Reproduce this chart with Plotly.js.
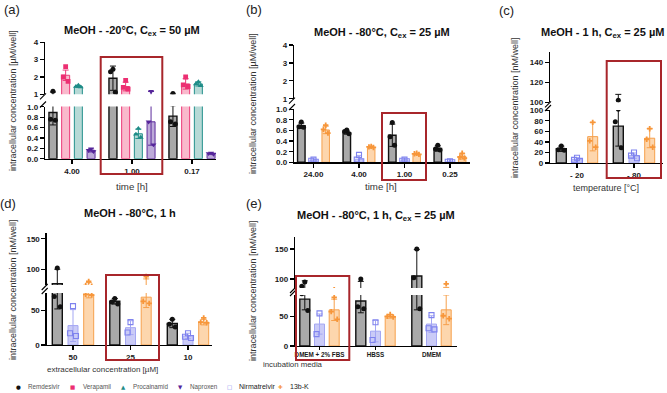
<!DOCTYPE html>
<html>
<head>
<meta charset="utf-8">
<script src="https://cdn.plot.ly/plotly-3.0.1.min.js"></script>
<style>
  html, body { margin: 0; padding: 0; background: #fff; }
  #chart { width: 667px; height: 393px; }
</style>
</head>
<body>
<div id="chart"></div>
<script>
// ---------------------------------------------------------------
// (a) MeOH, -20 °C, Cex = 50 µM — intracellular conc. [µM/well]
// ---------------------------------------------------------------
const timeA = ['4.00', '1.00', '0.17'];
const remdesivirA     = [0.89, 1.93, 0.82];
const remdesivirA_sd  = [0.24, 0.70, 0.20];
const remdesivirA_pts = [[1.18, 0.76, 0.74], [2.45, 2.30, 1.12], [1.05, 0.71, 0.67]];
const verapamilA      = [2.10, 1.45, 1.60];
const verapamilA_sd   = [0.30, 0.25, 0.30];
const verapamilA_pts  = [[2.60, 2.00, 1.75], [1.80, 1.40, 1.30], [2.00, 1.55, 1.45]];
const procainamidA     = [1.45, 0.48, 1.60];
const procainamidA_sd  = [0.06, 0.09, 0.12];
const procainamidA_pts = [[1.52, 1.45, 1.42], [0.58, 0.47, 0.41], [1.72, 1.60, 1.50]];
const naproxenA      = [0.16, 0.71, 0.10];
const naproxenA_sd   = [0.03, 0.45, 0.01];
const naproxenA_pts  = [[0.19, 0.16, 0.14], [1.17, 0.71, 0.27], [0.11, 0.10, 0.09]];

// ---------------------------------------------------------------
// (b) MeOH, -80 °C, Cex = 25 µM — [µM/well] vs. time [h]
// ---------------------------------------------------------------
const timeB = ['24.00', '4.00', '1.00', '0.25'];
const remdesivirB     = [0.69, 0.56, 0.51, 0.26];
const remdesivirB_sd  = [0.05, 0.03, 0.21, 0.05];
const remdesivirB_pts = [[0.76, 0.67, 0.66], [0.61, 0.58, 0.54], [0.75, 0.48, 0.32], [0.32, 0.25, 0.23]];
const nirmatrelvirB     = [0.03, 0.06, 0.03, 0.01];
const nirmatrelvirB_sd  = [0.03, 0.07, 0.02, 0.01];
const nirmatrelvirB_pts = [[0.05, 0.03, 0.01], [0.14, 0.05, 0.02], [0.05, 0.03, 0.02], [0.02, 0.01, 0.00]];
const k13bB     = [0.61, 0.28, 0.15, 0.11];
const k13bB_sd  = [0.07, 0.01, 0.01, 0.05];
const k13bB_pts = [[0.70, 0.62, 0.55], [0.30, 0.29, 0.28], [0.17, 0.16, 0.15], [0.17, 0.10, 0.08]];

// ---------------------------------------------------------------
// (c) MeOH, 1 h, Cex = 25 µM — [nM/well] vs. temperature [°C]
// ---------------------------------------------------------------
const tempC = ['- 20', '- 80'];
const remdesivirC     = [27, 70];
const remdesivirC_sd  = [5, 38];
const remdesivirC_pts = [[32, 25, 24], [102, 78, 29]];
const nirmatrelvirC     = [7, 14];
const nirmatrelvirC_sd  = [3, 5];
const nirmatrelvirC_pts = [[10, 6, 4], [20, 14, 9]];
const k13bC     = [50, 47];
const k13bC_sd  = [27, 18];
const k13bC_pts = [[77, 42, 30], [65, 45, 30]];

// ---------------------------------------------------------------
// (d) MeOH, -80 °C, 1 h — [nM/well] vs. extracellular conc. [µM]
// ---------------------------------------------------------------
const concD = ['50', '25', '10'];
const remdesivirD     = [76, 63, 31];
const remdesivirD_sd  = [24, 4, 6];
const remdesivirD_pts = [[102, 70, 55], [67, 62, 59], [37, 30, 26]];
const nirmatrelvirD     = [28, 25, 13];
const nirmatrelvirD_sd  = [23, 10, 4];
const nirmatrelvirD_pts = [[56, 17, 13], [33, 18], [17, 12, 10]];
const k13bD     = [73, 69, 33];
const k13bD_sd  = [5, 15, 4];
const k13bD_pts = [[80, 73, 72], [88, 63, 60], [39, 33, 32]];

// ---------------------------------------------------------------
// (e) MeOH, -80 °C, 1 h, Cex = 25 µM — [nM/well] vs. incubation media
// ---------------------------------------------------------------
const mediaE = ['DMEM + 2% FBS', 'HBSS', 'DMEM'];
const remdesivirE     = [79, 76, 105];
const remdesivirE_sd  = [18, 20, 44];
const remdesivirE_pts = [[95, 88, 60], [100, 66, 63], [150, 102, 63]];
const nirmatrelvirE     = [37, 25, 37];
const nirmatrelvirE_sd  = [17, 18, 14];
const nirmatrelvirE_pts = [[55, 20], [40, 10], [52, 30, 28]];
const k13bE     = [61, 50, 61];
const k13bE_sd  = [18, 3, 25];
const k13bE_pts = [[82, 58, 45], [53, 50, 49], [92, 51, 46]];

// ---------------------------------------------------------------
// Styling
// ---------------------------------------------------------------
const FONT = '"Liberation Sans", Arial, Helvetica, sans-serif';
const W = 667, H = 393;
const fx = px => px / W;          // pixel -> paper x
const fy = px => 1 - px / H;      // pixel -> paper y

const STYLE = {
  'Remdesivir':   { fill: '#a9a9a9', line: '#111111', lw: 1.4, err: '#111111', mk: '#111111', symbol: 'circle',        size: 5,   glyph: '●' },
  'Verapamil':    { fill: '#f9b9cc', line: '#ec3a78', lw: 1.0, err: '#ec3a78', mk: '#ec2f72', symbol: 'square',        size: 4.8, glyph: '■' },
  'Procainamid':  { fill: '#b7d9d6', line: '#23918c', lw: 1.0, err: '#23918c', mk: '#1f8c87', symbol: 'triangle-up',   size: 5.2, glyph: '▲' },
  'Naproxen':     { fill: '#bdaad9', line: '#5b2a9b', lw: 1.0, err: '#5b2a9b', mk: '#55259a', symbol: 'triangle-down', size: 5.2, glyph: '▼' },
  'Nirmatrelvir': { fill: '#cacbf7', line: '#a4a7f3', lw: 1.0, err: '#a4a7f3', mk: '#7f83ee', symbol: 'square-open',   size: 5,   glyph: '□' },
  '13b-K':        { fill: '#fdd6ad', line: '#f6a04c', lw: 1.0, err: '#f6a04c', mk: '#f7963a', symbol: 'cross',         size: 4.5, glyph: '✚' }
};
const LEGEND_ORDER = ['Remdesivir', 'Verapamil', 'Procainamid', 'Naproxen', 'Nirmatrelvir', '13b-K'];
// horizontal spread of replicate points inside a bar (fraction of bar width)
const JITTER = [0, -0.3, 0.3];

// Panel geometry in pixels: x axis extent, first group centre, group spacing,
// bar slot spacing and bar width; y axes split into a lower and an upper segment.
const PANELS = [
  {
    label: '(a)', labelPos: [12, 9],
    title: 'MeOH - -20°C, C<sub>ex</sub> = 50 µM', titlePos: [132, 31], titleAnchor: 'center',
    cats: timeA,
    series: [
      ['Remdesivir', remdesivirA, remdesivirA_sd, remdesivirA_pts],
      ['Verapamil', verapamilA, verapamilA_sd, verapamilA_pts],
      ['Procainamid', procainamidA, procainamidA_sd, procainamidA_pts],
      ['Naproxen', naproxenA, naproxenA_sd, naproxenA_pts]
    ],
    x: [45, 216], c0: 72, sp: 60, slot: 12.7, bw: 8, catSize: 8, ticklen: 4,
    lo: { px: [106.5, 158.7], range: [0, 1.005], tick0: 0, dtick: 0.2, fmt: '.1f' },
    hi: { px: [42, 94.3], range: [1, 4.02], tick0: 1, dtick: 1, fmt: 'd' },
    ytitle: 'intracellular concentration [µM/well]', ytitlePos: [13, 101],
    xtitle: 'time [h]', xtitlePos: [132, 186.5], xtitleSize: 9.7,
    box: [100.7, 57, 162.3, 174]
  },
  {
    label: '(b)', labelPos: [254, 9],
    title: 'MeOH - -80°C, C<sub>ex</sub> = 25 µM', titlePos: [382, 32.5], titleAnchor: 'center',
    cats: timeB,
    series: [
      ['Remdesivir', remdesivirB, remdesivirB_sd, remdesivirB_pts],
      ['Nirmatrelvir', nirmatrelvirB, nirmatrelvirB_sd, nirmatrelvirB_pts],
      ['13b-K', k13bB, k13bB_sd, k13bB_pts]
    ],
    x: [294, 470], c0: 313.5, sp: 45.5, slot: 12.2, bw: 7.5, catSize: 8, ticklen: 4,
    lo: { px: [109, 162.3], range: [0, 1.005], tick0: 0, dtick: 0.2, fmt: '.1f' },
    hi: { px: [44.7, 98.7], range: [1, 4.02], tick0: 1, dtick: 1, fmt: 'd' },
    ytitle: 'intracellular concentration [µM/well]', ytitlePos: [253, 104],
    xtitle: 'time [h]', xtitlePos: [381, 186.5], xtitleSize: 9.7,
    box: [382, 113, 426, 180]
  },
  {
    label: '(c)', labelPos: [507, 11],
    title: 'MeOH - 1 h, C<sub>ex</sub> = 25 µM', titlePos: [666, 33], titleAnchor: 'right',
    cats: tempC,
    series: [
      ['Remdesivir', remdesivirC, remdesivirC_sd, remdesivirC_pts],
      ['Nirmatrelvir', nirmatrelvirC, nirmatrelvirC_sd, nirmatrelvirC_pts],
      ['13b-K', k13bC, k13bC_sd, k13bC_pts]
    ],
    x: [550, 663], c0: 577, sp: 57, slot: 15.7, bw: 10, catSize: 8, ticklen: 4,
    lo: { px: [110, 163], range: [0, 100.5], tick0: 0, dtick: 20, fmt: 'd' },
    hi: { px: [51.7, 102.3], range: [100, 151], tick0: 100, dtick: 20, fmt: 'd' },
    ytitle: 'intracellular concentration [nM/well]', ytitlePos: [515, 108],
    xtitle: 'temperature [°C]', xtitlePos: [606, 188], xtitleSize: 9,
    box: [606.7, 61, 661, 178]
  },
  {
    label: '(d)', labelPos: [8, 203],
    title: 'MeOH - -80°C, 1 h', titlePos: [130, 213], titleAnchor: 'center',
    cats: concD,
    series: [
      ['Remdesivir', remdesivirD, remdesivirD_sd, remdesivirD_pts],
      ['Nirmatrelvir', nirmatrelvirD, nirmatrelvirD_sd, nirmatrelvirD_pts],
      ['13b-K', k13bD, k13bD_sd, k13bD_pts]
    ],
    x: [46.7, 212], c0: 73, sp: 57.5, slot: 15.7, bw: 10, catSize: 8, ticklen: 4,
    lo: { px: [293, 345], range: [0, 75], tick0: 0, dtick: 50, fmt: 'd' },
    hi: { px: [233.3, 285], range: [74, 159.2], tick0: 0, dtick: 50, fmt: 'd' },
    ytitle: 'intracellular concentration [nM/well]', ytitlePos: [13, 290],
    xtitle: 'extracellular concentration [µM]', xtitlePos: [102, 369], xtitleSize: 8,
    box: [106, 275, 159, 360]
  },
  {
    label: '(e)', labelPos: [254, 203],
    title: 'MeOH - -80°C, 1 h, C<sub>ex</sub> = 25 µM', titlePos: [376, 216], titleAnchor: 'center',
    cats: mediaE,
    series: [
      ['Remdesivir', remdesivirE, remdesivirE_sd, remdesivirE_pts],
      ['Nirmatrelvir', nirmatrelvirE, nirmatrelvirE_sd, nirmatrelvirE_pts],
      ['13b-K', k13bE, k13bE_sd, k13bE_pts]
    ],
    x: [295, 457], c0: 319.5, sp: 56, slot: 14.7, bw: 10, catSize: 6.3, ticklen: 2.5,
    lo: { px: [295, 346], range: [0, 86], tick0: 0, dtick: 50, fmt: 'd' },
    hi: { px: [236.7, 288], range: [85, 170.5], tick0: 0, dtick: 50, fmt: 'd' },
    ytitle: 'intracellular concentration [nM/well]', ytitlePos: [253, 291],
    xtitle: 'incubation media', xtitlePos: [293, 364.5], xtitleSize: 7.8,
    box: [296, 276, 349.3, 360]
  }
];

const traces = [];
const layout = {
  width: W, height: H, autosize: false,
  margin: { l: 0, r: 0, t: 0, b: 0, pad: 0 },
  paper_bgcolor: '#ffffff', plot_bgcolor: 'rgba(0,0,0,0)',
  barmode: 'overlay', showlegend: false,
  font: { family: FONT, color: '#1a1a1a' },
  annotations: [], shapes: []
};

const axisKey = (kind, n) => (n === 1 ? kind + 'axis' : kind + 'axis' + n);
const axisRef = (kind, n) => (n === 1 ? kind : kind + n);

function yAxisDef(seg, xr) {
  return {
    domain: [fy(seg.px[1]), fy(seg.px[0])], anchor: xr, range: seg.range,
    tick0: seg.tick0, dtick: seg.dtick, tickformat: seg.fmt,
    showline: true, linecolor: '#000', linewidth: 1.3,
    ticks: 'outside', ticklen: 4, tickwidth: 1.2, tickcolor: '#000',
    tickfont: { family: FONT, size: 8, color: '#1a1a1a', weight: 700 },
    showgrid: false, zeroline: false, fixedrange: true
  };
}

function ann(text, x, y, extra) {
  return Object.assign({
    text: text, x: fx(x), y: fy(y), xref: 'paper', yref: 'paper',
    showarrow: false, xanchor: 'center', yanchor: 'middle',
    font: { family: FONT, size: 9, color: '#222' }
  }, extra || {});
}

PANELS.forEach((p, i) => {
  const xn = i + 1, yl = 2 * i + 1, yh = 2 * i + 2;
  const xr = axisRef('x', xn);
  const ylr = axisRef('y', yl), yhr = axisRef('y', yh);

  layout[axisKey('x', xn)] = {
    domain: [fx(p.x[0]), fx(p.x[1])], anchor: ylr,
    range: [(p.x[0] - p.c0) / p.sp, (p.x[1] - p.c0) / p.sp],
    tickvals: p.cats.map((_, k) => k), ticktext: p.cats,
    showline: true, linecolor: '#000', linewidth: 1.3,
    ticks: 'outside', ticklen: p.ticklen, tickwidth: 1.2, tickcolor: '#000',
    tickfont: { family: FONT, size: p.catSize, color: '#1a1a1a', weight: 700 },
    showgrid: false, zeroline: false, fixedrange: true
  };
  layout[axisKey('y', yl)] = yAxisDef(p.lo, xr);
  layout[axisKey('y', yh)] = yAxisDef(p.hi, xr);

  const n = p.series.length;
  const w = p.bw / p.sp;
  p.series.forEach(([name, mean, sd, pts], k) => {
    const st = STYLE[name];
    const off = (k - (n - 1) / 2) * p.slot / p.sp;
    const xs = mean.map((_, g) => g + off);
    const px = [], py = [];
    pts.forEach((arr, g) => arr.forEach((v, r) => {
      px.push(g + off + JITTER[r % JITTER.length] * w);
      py.push(v);
    }));
    [ylr, yhr].forEach(ya => {
      traces.push({
        type: 'bar', name: name, x: xs, y: mean, width: w,
        xaxis: xr, yaxis: ya,
        marker: { color: st.fill, line: { color: st.line, width: st.lw } },
        error_y: { type: 'data', array: sd, visible: true, color: st.err, thickness: 1, width: 3 },
        showlegend: false, hoverinfo: 'skip'
      });
    });
    [ylr, yhr].forEach(ya => {
      traces.push({
        type: 'scatter', mode: 'markers', name: name, x: px, y: py,
        xaxis: xr, yaxis: ya, cliponaxis: true,
        marker: {
          color: st.mk, symbol: st.symbol, size: st.size,
          line: { color: st.mk, width: st.symbol.endsWith('open') ? 1.1 : 0 }
        },
        showlegend: false, hoverinfo: 'skip'
      });
    });
  });

  // panel letter, title, axis titles
  layout.annotations.push(ann(p.label, p.labelPos[0], p.labelPos[1], { font: { family: FONT, size: 13, color: '#222' } }));
  layout.annotations.push(ann('<b>' + p.title + '</b>', p.titlePos[0], p.titlePos[1], { xanchor: p.titleAnchor, font: { family: FONT, size: 11, color: '#111' } }));
  layout.annotations.push(ann(p.ytitle, p.ytitlePos[0], p.ytitlePos[1], { textangle: -90, font: { family: FONT, size: 9, color: '#333' } }));
  layout.annotations.push(ann(p.xtitle, p.xtitlePos[0], p.xtitlePos[1], { font: { family: FONT, size: p.xtitleSize, color: '#333' } }));

  // axis break marks
  const ax = p.x[0];
  [p.hi.px[1] + 2, p.lo.px[0] - 2].forEach(yb => {
    layout.shapes.push({
      type: 'line', xref: 'paper', yref: 'paper',
      x0: fx(ax - 5), y0: fy(yb + 3), x1: fx(ax + 1), y1: fy(yb - 3),
      line: { color: '#000', width: 1.1 }
    });
  });

  // highlighted group
  layout.shapes.push({
    type: 'rect', xref: 'paper', yref: 'paper',
    x0: fx(p.box[0]), y0: fy(p.box[3]), x1: fx(p.box[2]), y1: fy(p.box[1]),
    line: { color: '#a8262b', width: 2 }, fillcolor: 'rgba(0,0,0,0)'
  });
});

// legend row along the bottom
const LEGEND_X = [18.3, 72.7, 123.3, 180, 229.3, 280];
LEGEND_ORDER.forEach((name, i) => {
  const st = STYLE[name];
  const dark = (name === 'Nirmatrelvir' || name === '13b-K');
  layout.annotations.push(ann(st.glyph, LEGEND_X[i], 386.5, { font: { family: 'DejaVu Sans', size: 5.5, color: st.mk } }));
  layout.annotations.push(ann(name, LEGEND_X[i] + 8, 386.5, { xanchor: 'left', font: { family: FONT, size: dark ? 7 : 6.3, color: dark ? '#222' : '#555' } }));
});

Plotly.newPlot('chart', traces, layout, { staticPlot: true, displayModeBar: false });
</script>
</body>
</html>
